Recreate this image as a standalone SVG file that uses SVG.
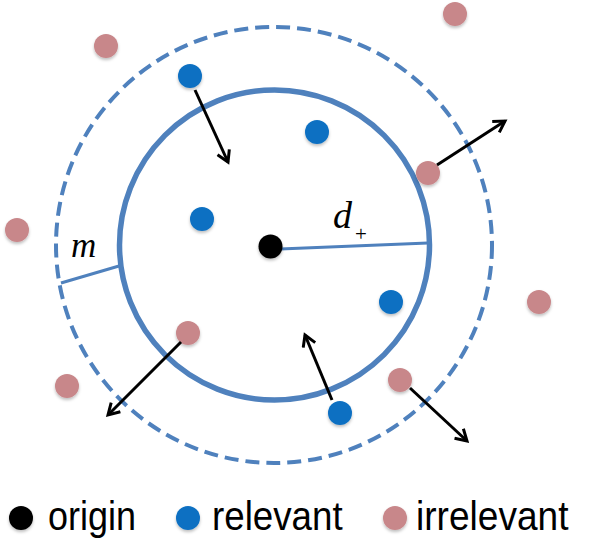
<svg xmlns="http://www.w3.org/2000/svg" width="592" height="557" viewBox="0 0 592 557">
<defs>
<filter id="sh" x="-50%" y="-50%" width="200%" height="200%">
<feDropShadow dx="0" dy="2" stdDeviation="1.5" flood-color="#000" flood-opacity="0.25"/>
</filter>
<marker id="ah" markerWidth="16" markerHeight="16" refX="12" refY="8" orient="auto" markerUnits="userSpaceOnUse">
<path d="M1,1.5 L12,8 L1,14.5" fill="none" stroke="#000" stroke-width="3" stroke-linejoin="miter"/>
</marker>
<style>
.rel{fill:#0a6fc2;filter:url(#sh)}
.irr{fill:#c8878a;filter:url(#sh)}
.org{fill:#000;filter:url(#sh)}
.arr{stroke:#000;stroke-width:3;fill:none;marker-end:url(#ah)}
.ring{fill:none;stroke:#4f81bd}
.lbl{font-family:"Liberation Sans",Arial,sans-serif;font-size:36px;fill:#000}
.math{font-family:"Liberation Serif","Times New Roman",serif;font-style:italic;fill:#000}
</style>
</defs>
<rect width="592" height="557" fill="#fff"/>
<g id="circles">
<circle id="outer" class="ring" cx="274" cy="245" r="218" stroke-width="4" stroke-dasharray="14 7"/>
<circle id="inner" class="ring" cx="274.5" cy="245" r="155" stroke-width="5.5"/>
</g>
<g id="measures">
<line x1="280" y1="249" x2="428" y2="243" stroke="#4f81bd" stroke-width="3"/>
<line x1="61" y1="283" x2="119" y2="266" stroke="#4f81bd" stroke-width="3"/>
<text class="math" x="333" y="228" font-size="38">d</text>
<text x="361" y="241" font-family="Liberation Serif,serif" font-size="21" text-anchor="middle">+</text>
<text class="math" x="71" y="257" font-size="35">m</text>
</g>
<g id="points">
<circle id="origin" class="org" cx="270.5" cy="246.5" r="12"/>
<circle class="rel" cx="190" cy="76" r="12"/>
<circle class="rel" cx="317" cy="132" r="12"/>
<circle class="rel" cx="202" cy="219" r="12"/>
<circle class="rel" cx="391" cy="302" r="12"/>
<circle class="rel" cx="340" cy="413" r="12"/>
<circle class="irr" cx="455" cy="14" r="12"/>
<circle class="irr" cx="106" cy="46" r="12"/>
<circle class="irr" cx="428" cy="173" r="12"/>
<circle class="irr" cx="17" cy="230" r="12"/>
<circle class="irr" cx="539" cy="302" r="12"/>
<circle class="irr" cx="188" cy="333" r="12"/>
<circle class="irr" cx="67" cy="386" r="12"/>
<circle class="irr" cx="400" cy="380" r="12"/>
</g>
<g id="connectors">
<line class="arr" x1="195" y1="90" x2="228" y2="162"/>
<line class="arr" x1="437" y1="165" x2="505" y2="121"/>
<line class="arr" x1="332" y1="400" x2="305" y2="335"/>
<line class="arr" x1="181" y1="342" x2="108" y2="415"/>
<line class="arr" x1="410" y1="388" x2="467" y2="441"/>
</g>
<g id="legend">
<circle class="org" cx="21" cy="518" r="12"/>
<text class="lbl" transform="translate(48,530) scale(1,1.12)">origin</text>
<circle class="rel" cx="188" cy="518" r="12"/>
<text class="lbl" transform="translate(212,530) scale(1.02,1.12)">relevant</text>
<circle class="irr" cx="395" cy="518" r="12"/>
<text class="lbl" transform="translate(416,530) scale(1.03,1.12)">irrelevant</text>
</g>
</svg>
